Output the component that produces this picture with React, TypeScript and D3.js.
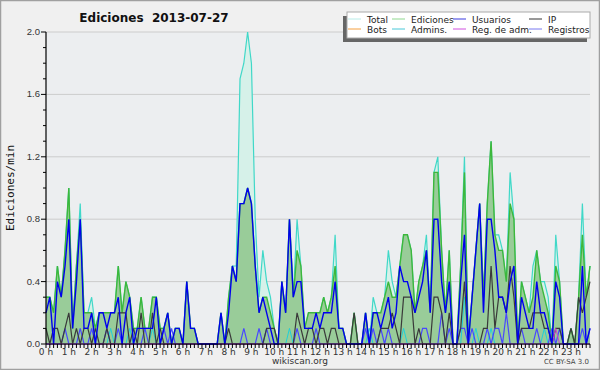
import React from 'react';
import * as d3 from 'd3';

const W = 600, H = 370;
const hourLabels = d3.range(24).map(h => `${h} h`);
const yTickLabels = ['0.0', '0.4', '0.8', '1.2', '1.6', '2.0'];

const total = [
  .3,.3,.2,.5,.3,.6,1.0,.1,.5,.9,.2,.2,.3,.1,.2,.2,.2,.2,.2,.5,.2,.4,.3,.1,
  .1,.3,.1,.1,.3,.3,.1,.1,.2,0,.1,.1,0,.4,.1,.1,0,0,0,0,0,0,.2,0,
  .3,.5,.5,1.7,1.8,2.0,1.8,.8,.3,.6,.4,.3,.1,0,.4,.2,.8,.3,.8,.5,.1,.2,.2,.2,
  .2,.3,.2,.3,.7,.1,.1,0,0,.2,0,0,.2,0,.3,.2,.2,.3,.6,.4,.3,.5,.7,.7,
  .6,.2,.4,.5,.7,.2,1.1,1.2,.6,.2,.6,0,0,.5,1.2,0,.3,.6,.9,.3,.9,1.3,.7,.7,
  .6,.4,1.1,.8,0,.4,.3,.2,.5,.6,.4,.4,.3,0,.7,.4,0,0,.1,0,.3,.9,.3,.5
];
const ediciones = [
  .3,.3,.2,.5,.3,.6,1.0,.1,.5,.8,.2,.2,.2,.1,.2,.2,.2,.2,.2,.5,.2,.4,.3,.1,
  .1,.3,.1,.1,.3,.3,.1,.1,.2,0,.1,.1,0,.4,.1,.1,0,0,0,0,0,0,.2,0,
  .3,.5,.4,.9,.9,1.0,.9,.5,.2,.3,.3,.2,.1,0,.4,.2,.8,.3,.6,.5,.1,.2,.2,.2,
  .2,.3,.2,.3,.5,.1,.1,0,0,.2,0,0,.2,0,.2,.2,.2,.3,.4,.3,.3,.5,.7,.7,
  .6,.2,.4,.5,.6,.2,1.1,1.1,.6,.2,.6,0,0,.5,1.1,0,.3,.6,.9,.3,.9,1.3,.7,.6,
  .6,.4,.9,.8,0,.4,.3,.2,.3,.6,.4,.3,.2,0,.5,.4,0,0,.1,0,.3,.7,.3,.5
];
const usuarios = [
  .2,.3,0,.4,.3,.5,.8,.1,.4,.8,.1,.1,.2,0,.2,.2,.1,.2,.2,.3,0,.2,.3,0,
  .1,.1,.1,.1,.1,.3,0,.1,.2,0,.1,.1,0,.4,.1,.1,0,0,0,0,0,0,.2,0,
  .2,.5,.4,.9,.9,1.0,.9,.5,.2,.3,.2,.1,0,0,.4,.2,.8,.3,.4,.4,.1,.1,.1,.2,
  .1,.2,.2,.2,.4,.1,.1,0,0,0,0,0,.2,0,.2,.2,.1,.2,.3,.1,.2,.5,.4,.4,
  .3,.2,.3,.4,.6,.2,.8,.8,.4,.2,.4,0,0,.4,.7,0,.3,.6,.9,.2,.8,.8,.6,.3,
  .3,.2,.4,.5,0,.3,.2,.1,.1,.4,.2,.2,.1,0,.4,.3,0,0,0,0,0,.5,0,.1
];
const ip = [
  .1,0,.1,.1,0,.1,.2,0,.1,0,.1,.1,0,.1,0,0,.1,0,0,.2,.2,.2,0,.1,
  0,.2,0,0,.2,0,.1,0,0,0,0,0,0,0,0,0,0,0,0,0,0,0,0,0,
  .1,0,0,0,0,0,0,0,0,0,.1,.1,.1,0,0,0,0,0,.2,.1,0,.1,.1,0,
  .1,.1,0,.1,.1,0,0,0,0,.2,0,0,0,0,0,0,.1,.1,.1,.2,.1,0,.3,.3,
  .3,0,.1,0,0,0,.3,.3,.2,0,.2,0,0,.1,.4,0,0,0,0,.1,.1,.5,.1,.3,
  .3,.2,.5,.3,0,.1,.1,.1,.2,.2,.2,.1,.1,0,.1,.1,0,0,.1,0,.3,.2,.3,.4
];
const registros = [
  0,0,0,0,0,.1,0,0,0,.1,0,0,.1,0,0,0,.1,0,0,.1,0,0,0,0,
  0,0,.1,0,0,0,0,.1,0,.1,0,0,0,0,0,0,0,0,0,0,0,0,0,0,
  0,0,0,0,.1,0,0,0,.1,0,.1,0,0,0,0,0,0,0,.1,0,0,0,0,.1,
  0,0,0,0,0,0,0,0,0,0,0,0,.1,0,.1,0,.1,0,.1,0,0,0,0,0,
  0,0,0,.1,.1,0,0,0,.2,0,.1,0,0,.1,.1,0,.1,0,0,0,.1,0,.1,.1,
  0,.2,0,0,0,.1,0,0,0,.1,0,0,0,.1,0,.1,0,0,0,0,0,.1,0,.1
];
const admins = [
  0,0,0,0,0,0,0,0,0,0,0,0,0,0,0,0,0,.1,0,0,0,0,.1,0,
  0,0,0,0,.1,0,0,0,0,0,0,0,0,0,0,0,0,0,0,0,0,0,0,0,
  0,0,0,0,0,0,0,0,0,0,0,0,0,0,0,0,.1,0,0,0,0,0,0,0,
  0,0,0,0,0,0,0,0,0,0,0,0,0,.1,0,0,0,0,0,0,0,0,.1,0,
  0,0,0,0,0,0,0,0,0,0,0,0,0,0,.3,0,0,.1,0,0,0,.1,0,0,
  0,0,0,0,0,0,0,0,0,0,0,.1,0,0,0,0,0,0,0,0,0,0,0,0
];
const regAdm = d3.range(144).map(i => (i === 134 ? .1 : 0));
const bots = d3.range(144).map(() => 0);

const legendItems = [
  ['Total', '#b8ece8'], ['Ediciones', '#8fd88f'], ['Usuarios', '#3a3ae0'], ['IP', '#333333'],
  ['Bots', '#f5a040'], ['Admins.', '#48c8d8'], ['Reg. de adm.', '#d050e0'], ['Registros', '#7878f0'],
];

export default function App() {
  const x0 = 46, x1 = 590, yb = 344, yt = 32;
  const x = d3.scaleLinear().domain([0, 143]).range([x0, x1]);
  const y = d3.scaleLinear().domain([0, 2]).range([yb, yt]);
  const idx = d3.range(144);
  const line = (arr: number[]) => d3.line<number>().x(i => x(i)).y(i => y(arr[i]))(idx) || '';
  const area = (arr: number[]) => d3.area<number>().x(i => x(i)).y0(y(0)).y1(i => y(arr[i]))(idx) || '';
  const legX = [348, 392, 453, 529];
  const font = 'DejaVu Sans';
  return (
    <svg width={W} height={H} style={{ position: 'absolute', left: 0, top: 0 }}>
      <rect x={0.5} y={0.5} width={W - 1} height={H - 1} fill="#f0f0f0" stroke="#a0a0a0" strokeWidth={1.5} />
      <rect x={x0} y={yt} width={x1 - x0} height={yb - yt} fill="#eceef0" />
      {[0.4, 0.8, 1.2, 1.6, 2.0].map(v => (
        <line key={v} x1={x0} x2={x1} y1={y(v)} y2={y(v)} stroke="#cccccc" strokeWidth={1} />
      ))}
      <text x={154} y={22} textAnchor="middle" fontFamily={font} fontWeight="bold" fontSize={12} fill="#111" style={{ whiteSpace: 'pre' }}>
        {'Ediciones  2013-07-27'}
      </text>
      <path d={area(total)} fill="#d6f1e9" />
      <path d={line(total)} fill="none" stroke="#40d8c8" strokeWidth={1.2} />
      <path d={area(ediciones)} fill="#99cc99" />
      <path d={line(ediciones)} fill="none" stroke="#3cb83c" strokeWidth={1.4} />
      <path d={line(bots)} fill="none" stroke="#f5a040" strokeWidth={1} />
      <path d={line(admins)} fill="none" stroke="#20d0d8" strokeWidth={1} />
      <path d={line(registros)} fill="none" stroke="#4848ff" strokeWidth={1.2} />
      <path d={line(ip)} fill="none" stroke="#3a3a3a" strokeWidth={1.2} />
      <path d={line(regAdm)} fill="none" stroke="#d040d0" strokeWidth={1} />
      <path d={line(usuarios)} fill="none" stroke="#0000ee" strokeWidth={1.4} />
      <line x1={x0} x2={x0} y1={yt} y2={yb} stroke="#000" strokeWidth={1.2} />
      <line x1={x0} x2={x1} y1={yb} y2={yb} stroke="#000" strokeWidth={1.2} />
      {d3.range(0, 21).map(k => (
        <line key={k} x1={x0 - (k % 4 === 0 ? 5 : 3)} x2={x0} y1={y(k / 10)} y2={y(k / 10)} stroke="#000" strokeWidth={1} />
      ))}
      {yTickLabels.map((t, k) => (
        <text key={t} x={x0 - 6} y={y(k * 0.4) + 3} textAnchor="end" fontFamily="Liberation Sans" fontSize={9.5} fill="#333">{t}</text>
      ))}
      {idx.map(i => (
        <line key={i} x1={x(i)} x2={x(i)} y1={yb} y2={yb + 4} stroke="#000" strokeWidth={1} />
      ))}
      {hourLabels.map((t, h) => (
        <text key={t} x={x(h * 6)} y={355} textAnchor="middle" fontFamily={font} fontSize={9} fill="#333">{t}</text>
      ))}
      <text transform={`translate(14,${(yt + yb) / 2}) rotate(-90)`} textAnchor="middle" fontFamily="DejaVu Sans Mono" fontSize={11} fill="#111">
        Ediciones/min
      </text>
      <text x={300} y={364} textAnchor="middle" fontFamily={font} fontSize={9} fill="#333">wikiscan.org</text>
      <text x={589} y={364} textAnchor="end" fontFamily={font} fontSize={7} fill="#444">CC BY-SA 3.0</text>
      <rect x={343} y={16} width={244} height={26} fill="#666" />
      <rect x={347} y={12} width={243} height={26} fill="#fff" stroke="#aaa" strokeWidth={1} />
      {legendItems.map(([name, col], k) => {
        const cx = legX[k % 4], cy = k < 4 ? 19 : 29;
        return (
          <g key={name}>
            <line x1={cx} x2={cx + 13} y1={cy} y2={cy} stroke={col} strokeWidth={1} />
            <text x={cx + 19} y={cy + 3.5} fontFamily={font} fontSize={9} fill="#222">{name}</text>
          </g>
        );
      })}
    </svg>
  );
}
